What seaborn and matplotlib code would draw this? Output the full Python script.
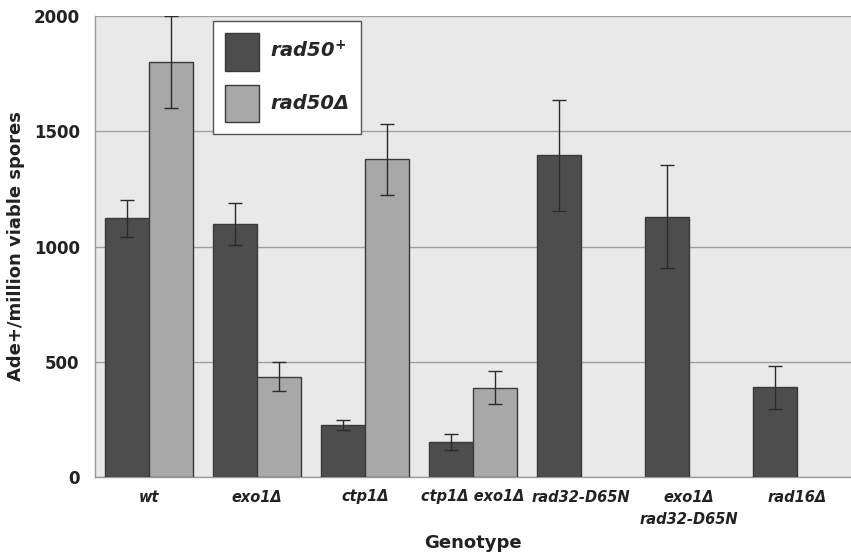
import numpy as np
import pandas as pd
import matplotlib
matplotlib.use("Agg")
import matplotlib.pyplot as plt
import seaborn as sns
from matplotlib.patches import Patch

genotypes = ["wt", "exo1Δ", "ctp1Δ", "ctp1Δ exo1Δ", "rad32-D65N", "exo1Δ\nrad32-D65N", "rad16Δ"]
rad50_plus = [1122, 1097, 226, 151, 1395, 1130, 390]
rad50_plus_err = [80, 92, 22, 36, 242, 223, 93]
rad50_delta = [1800, 436, 1378, 388, np.nan, np.nan, np.nan]
rad50_delta_err = [198, 64, 153, 73, np.nan, np.nan, np.nan]
hue_names = ["rad50+", "rad50Δ"]

df = pd.DataFrame({
    "Genotype": genotypes * 2,
    "value": rad50_plus + rad50_delta,
    "strain": [hue_names[0]] * len(genotypes) + [hue_names[1]] * len(genotypes),
})
errs = {hue_names[0]: rad50_plus_err, hue_names[1]: rad50_delta_err}

sns.set_style("white")
plt.rcParams["font.family"] = ["DejaVu Sans"]

fig = plt.figure(figsize=(8.51, 5.56), dpi=100)
ax = fig.add_axes([95 / 851, 79 / 556, (851 - 95) / 851, (477 - 16) / 556])
ax.set_facecolor("#e9e9e9")

colors = ["#4d4d4d", "#a8a8a8"]
sns.barplot(data=df, x="Genotype", y="value", hue="strain", hue_order=hue_names,
            order=genotypes, palette=colors, errorbar=None, width=0.815,
            edgecolor="#3a3a3a", linewidth=1.0, ax=ax, legend=False, zorder=3)

for container, name in zip(ax.containers, hue_names):
    for bar in container:
        h = bar.get_height()
        if not np.isfinite(h) or h == 0:
            continue
        cx = bar.get_x() + bar.get_width() / 2
        idx = int(round(cx))
        e = errs[name][idx]
        if np.isfinite(e):
            ax.errorbar(cx, h, yerr=e, fmt="none", ecolor="#2a2a2a",
                        elinewidth=1.0, capsize=5, capthick=1.0, zorder=4)

ax.set_ylim(0, 2000)
ax.set_xlim(-0.5, 6.5)
ax.set_yticks([0, 500, 1000, 1500, 2000])
ax.yaxis.grid(True, color="#a0a0a0", linewidth=1.0, zorder=0)
ax.set_axisbelow(True)
for s in ["top", "right"]:
    ax.spines[s].set_visible(False)
for s in ["left", "bottom"]:
    ax.spines[s].set_color("#999999")
    ax.spines[s].set_linewidth(1.0)

ax.set_xticks(np.arange(-0.5, 7, 1.0), minor=True)
ax.tick_params(axis="x", which="major", length=0, pad=9)
ax.tick_params(axis="x", which="minor", length=5, color="#999999", direction="out")
ax.tick_params(axis="y", which="major", length=5, color="#999999", direction="out", pad=6)
ax.set_xticks(range(len(genotypes)))
ax.set_xticklabels(genotypes, fontsize=10.5, fontweight="bold", fontstyle="italic",
                   color="#222222", linespacing=1.6)
for lab in ax.get_yticklabels():
    lab.set_fontsize(12)
    lab.set_fontweight("bold")
    lab.set_color("#222222")

ax.set_xlabel("Genotype", fontsize=13, fontweight="bold", color="#222222")
ax.xaxis.set_label_coords(0.5, (477 - 534) / 461)
ax.set_ylabel("Ade+/million viable spores", fontsize=13, fontweight="bold", color="#222222")
ax.yaxis.set_label_coords((25 - 95) / 756, 0.5)

handles = [Patch(facecolor=colors[0], edgecolor="#3a3a3a"),
           Patch(facecolor=colors[1], edgecolor="#3a3a3a")]
labels = [r"rad50$^{\mathbf{+}}$", "rad50Δ"]
leg = ax.legend(handles, labels, loc="upper left", bbox_to_anchor=(118 / 756, 456 / 461),
                frameon=True, fancybox=False, framealpha=1, edgecolor="#555555",
                handlelength=1.72, handleheight=2.6, labelspacing=0.72,
                borderpad=0.62, handletextpad=0.6, borderaxespad=0,
                prop={"size": 14, "weight": "bold", "style": "italic"})
leg.get_frame().set_linewidth(1.0)

fig.savefig("out.png", dpi=100, facecolor="white")
